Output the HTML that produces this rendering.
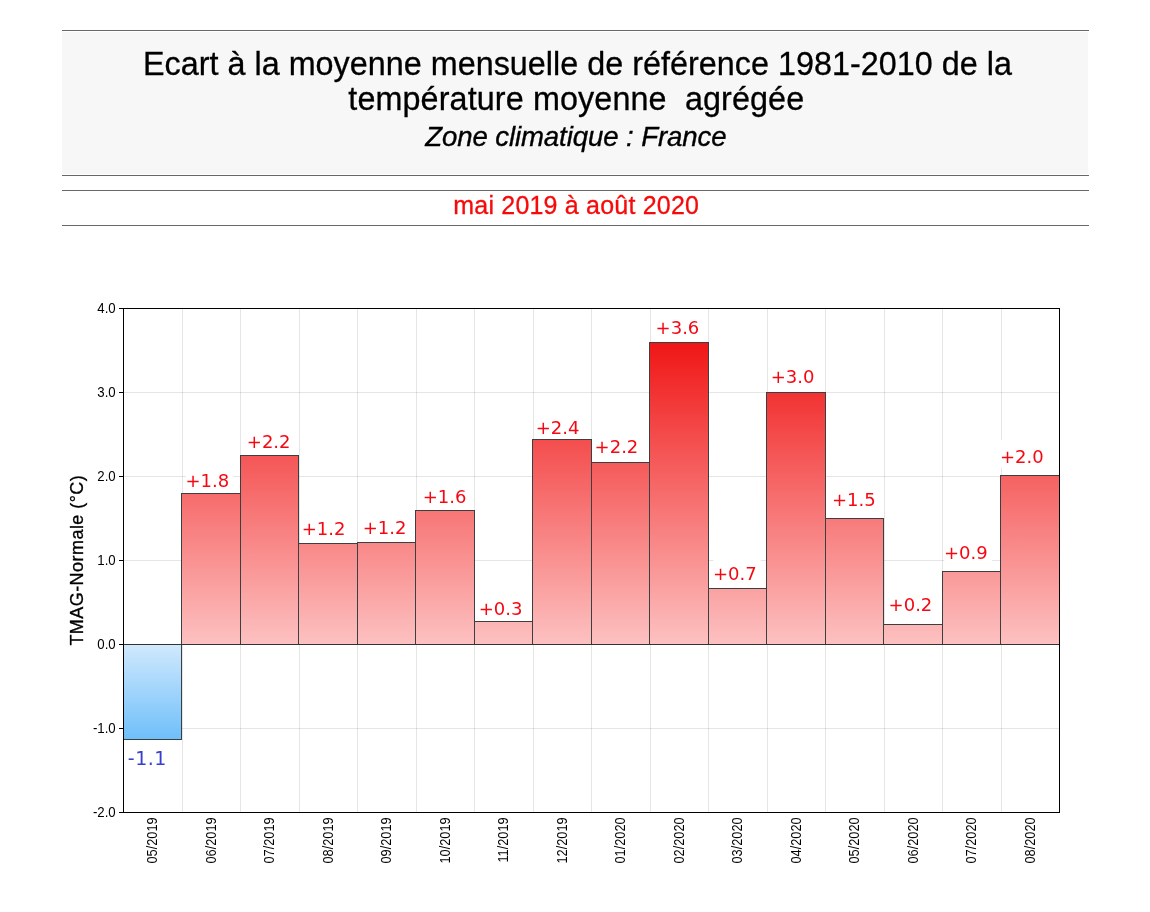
<!DOCTYPE html>
<html lang="fr"><head><meta charset="utf-8"><title>Ecart à la moyenne mensuelle</title>
<style>
html,body{margin:0;padding:0;background:#fff;}
body{width:1150px;height:912px;position:relative;overflow:hidden;font-family:"Liberation Sans",sans-serif;}
.hdr{position:absolute;left:62px;top:32px;width:1026px;height:142px;background:#f7f7f7;}
.ln{position:absolute;left:62px;width:1027px;height:1px;background:#686868;}
svg{position:absolute;left:0;top:0;}
svg text{font-family:"Liberation Sans",sans-serif;}
svg text.bl{font-family:"DejaVu Sans","Liberation Sans",sans-serif;}
</style></head><body>
<div class="hdr"></div>
<div class="ln" style="top:30px"></div>
<div class="ln" style="top:175px"></div>
<div class="ln" style="top:190px"></div>
<div class="ln" style="top:225px"></div>

<svg width="1150" height="912" viewBox="0 0 1150 912">
<defs>
<linearGradient id="gr" gradientUnits="userSpaceOnUse" x1="0" y1="342.1" x2="0" y2="644.5"><stop offset="0" stop-color="#f01616"/><stop offset="1" stop-color="#fdc1c1"/></linearGradient>
<linearGradient id="gb" gradientUnits="userSpaceOnUse" x1="0" y1="644.5" x2="0" y2="739.5"><stop offset="0" stop-color="#d0e9fd"/><stop offset="1" stop-color="#6fbffa"/></linearGradient>
</defs>
<text x="577.4" y="74.8" font-size="32.3" letter-spacing="0.032" text-anchor="middle" fill="#000" stroke="#000" stroke-width="0.3" style="white-space:pre">Ecart à la moyenne mensuelle de référence 1981-2010 de la</text>
<text x="576.3" y="110.3" font-size="32.3" letter-spacing="0.127" text-anchor="middle" fill="#000" stroke="#000" stroke-width="0.3" style="white-space:pre">température moyenne  agrégée</text>
<text x="575.8" y="145.6" stroke="#000" stroke-width="0.35" font-size="27.6" font-style="italic" letter-spacing="-0.1" text-anchor="middle" fill="#000">Zone climatique : France</text>
<text x="576.2" y="214" font-size="25" letter-spacing="0.2" text-anchor="middle" fill="#f60a0a" stroke="#f60a0a" stroke-width="0.3">mai 2019 à août 2020</text>
<path d="M182.5 308.5 V812.5 M240.5 308.5 V812.5 M299.5 308.5 V812.5 M357.5 308.5 V812.5 M416.5 308.5 V812.5 M474.5 308.5 V812.5 M533.5 308.5 V812.5 M591.5 308.5 V812.5 M650.5 308.5 V812.5 M708.5 308.5 V812.5 M767.5 308.5 V812.5 M825.5 308.5 V812.5 M884.5 308.5 V812.5 M942.5 308.5 V812.5 M1001.5 308.5 V812.5" stroke="#000" stroke-opacity="0.1" stroke-width="1" fill="none"/>
<path d="M123.5 392.5 H1059.5 M123.5 476.5 H1059.5 M123.5 560.5 H1059.5 M123.5 728.5 H1059.5" stroke="#000" stroke-opacity="0.1" stroke-width="1" fill="none"/>
<rect x="123.5" y="644.5" width="58.0" height="95.0" fill="url(#gb)" stroke="#3a4040" stroke-width="1"/>
<rect x="181.5" y="493.5" width="59.0" height="151.0" fill="url(#gr)" stroke="#3a4040" stroke-width="1"/>
<rect x="240.5" y="455.5" width="58.0" height="189.0" fill="url(#gr)" stroke="#3a4040" stroke-width="1"/>
<rect x="298.5" y="543.5" width="59.0" height="101.0" fill="url(#gr)" stroke="#3a4040" stroke-width="1"/>
<rect x="357.5" y="542.5" width="58.0" height="102.0" fill="url(#gr)" stroke="#3a4040" stroke-width="1"/>
<rect x="415.5" y="510.5" width="59.0" height="134.0" fill="url(#gr)" stroke="#3a4040" stroke-width="1"/>
<rect x="474.5" y="621.5" width="58.0" height="23.0" fill="url(#gr)" stroke="#3a4040" stroke-width="1"/>
<rect x="532.5" y="439.5" width="59.0" height="205.0" fill="url(#gr)" stroke="#3a4040" stroke-width="1"/>
<rect x="591.5" y="462.5" width="58.0" height="182.0" fill="url(#gr)" stroke="#3a4040" stroke-width="1"/>
<rect x="649.5" y="342.5" width="59.0" height="302.0" fill="url(#gr)" stroke="#3a4040" stroke-width="1"/>
<rect x="708.5" y="588.5" width="58.0" height="56.0" fill="url(#gr)" stroke="#3a4040" stroke-width="1"/>
<rect x="766.5" y="392.5" width="59.0" height="252.0" fill="url(#gr)" stroke="#3a4040" stroke-width="1"/>
<rect x="825.5" y="518.5" width="58.0" height="126.0" fill="url(#gr)" stroke="#3a4040" stroke-width="1"/>
<rect x="883.5" y="624.5" width="59.0" height="20.0" fill="url(#gr)" stroke="#3a4040" stroke-width="1"/>
<rect x="942.5" y="571.5" width="58.0" height="73.0" fill="url(#gr)" stroke="#3a4040" stroke-width="1"/>
<rect x="1000.5" y="475.5" width="59.0" height="169.0" fill="url(#gr)" stroke="#3a4040" stroke-width="1"/>
<path d="M123.5 644.5 H1059.5" stroke="#333" stroke-width="1"/>
<rect x="123.5" y="308.5" width="936.0" height="504.0" fill="none" stroke="#000" stroke-width="1"/>
<text transform="translate(115.7 313.0) scale(0.945 1)" font-size="14" text-anchor="end" fill="#000">4.0</text>
<text transform="translate(115.7 397.0) scale(0.945 1)" font-size="14" text-anchor="end" fill="#000">3.0</text>
<text transform="translate(115.7 481.0) scale(0.945 1)" font-size="14" text-anchor="end" fill="#000">2.0</text>
<text transform="translate(115.7 565.0) scale(0.945 1)" font-size="14" text-anchor="end" fill="#000">1.0</text>
<text transform="translate(115.7 649.0) scale(0.945 1)" font-size="14" text-anchor="end" fill="#000">0.0</text>
<text transform="translate(115.7 733.0) scale(0.945 1)" font-size="14" text-anchor="end" fill="#000">-1.0</text>
<text transform="translate(115.7 817.0) scale(0.945 1)" font-size="14" text-anchor="end" fill="#000">-2.0</text>
<path d="M119.0 308.5 H123.5 M119.0 392.5 H123.5 M119.0 476.5 H123.5 M119.0 560.5 H123.5 M119.0 644.5 H123.5 M119.0 728.5 H123.5 M119.0 812.5 H123.5" stroke="#000" stroke-width="1"/>
<text transform="translate(157.25 817.3) rotate(-90) scale(0.915 1)" font-size="14" text-anchor="end" fill="#000">05/2019</text>
<text transform="translate(215.75 817.3) rotate(-90) scale(0.915 1)" font-size="14" text-anchor="end" fill="#000">06/2019</text>
<text transform="translate(274.25 817.3) rotate(-90) scale(0.915 1)" font-size="14" text-anchor="end" fill="#000">07/2019</text>
<text transform="translate(332.75 817.3) rotate(-90) scale(0.915 1)" font-size="14" text-anchor="end" fill="#000">08/2019</text>
<text transform="translate(391.25 817.3) rotate(-90) scale(0.915 1)" font-size="14" text-anchor="end" fill="#000">09/2019</text>
<text transform="translate(449.75 817.3) rotate(-90) scale(0.915 1)" font-size="14" text-anchor="end" fill="#000">10/2019</text>
<text transform="translate(508.25 817.3) rotate(-90) scale(0.915 1)" font-size="14" text-anchor="end" fill="#000">11/2019</text>
<text transform="translate(566.75 817.3) rotate(-90) scale(0.915 1)" font-size="14" text-anchor="end" fill="#000">12/2019</text>
<text transform="translate(625.25 817.3) rotate(-90) scale(0.915 1)" font-size="14" text-anchor="end" fill="#000">01/2020</text>
<text transform="translate(683.75 817.3) rotate(-90) scale(0.915 1)" font-size="14" text-anchor="end" fill="#000">02/2020</text>
<text transform="translate(742.25 817.3) rotate(-90) scale(0.915 1)" font-size="14" text-anchor="end" fill="#000">03/2020</text>
<text transform="translate(800.75 817.3) rotate(-90) scale(0.915 1)" font-size="14" text-anchor="end" fill="#000">04/2020</text>
<text transform="translate(859.25 817.3) rotate(-90) scale(0.915 1)" font-size="14" text-anchor="end" fill="#000">05/2020</text>
<text transform="translate(917.75 817.3) rotate(-90) scale(0.915 1)" font-size="14" text-anchor="end" fill="#000">06/2020</text>
<text transform="translate(976.25 817.3) rotate(-90) scale(0.915 1)" font-size="14" text-anchor="end" fill="#000">07/2020</text>
<text transform="translate(1034.75 817.3) rotate(-90) scale(0.915 1)" font-size="14" text-anchor="end" fill="#000">08/2020</text>
<text transform="translate(82.5 560.2) rotate(-90)" font-size="18" letter-spacing="0.45" text-anchor="middle" fill="#000" stroke="#000" stroke-width="0.3">TMAG-Normale (°C)</text>
<rect x="127.2" y="741.9" width="42" height="27.5" fill="#fff"/>
<text x="127.8" y="764.9" class="bl" font-size="19" letter-spacing="0.5" fill="#3640cc">-1.1</text>
<rect x="185.8" y="463.5" width="47.5" height="27.5" fill="#fff"/>
<text x="185.4" y="486.5" class="bl" font-size="18" fill="#f60812">+1.8</text>
<rect x="247.2" y="424.9" width="47.5" height="27.5" fill="#fff"/>
<text x="246.8" y="447.9" class="bl" font-size="18" fill="#f60812">+2.2</text>
<rect x="302.1" y="511.5" width="47.5" height="27.5" fill="#fff"/>
<text x="301.7" y="534.5" class="bl" font-size="18" fill="#f60812">+1.2</text>
<rect x="363.1" y="510.7" width="47.5" height="27.5" fill="#fff"/>
<text x="362.7" y="533.7" class="bl" font-size="18" fill="#f60812">+1.2</text>
<rect x="423.1" y="480.3" width="47.5" height="27.5" fill="#fff"/>
<text x="422.7" y="503.3" class="bl" font-size="18" fill="#f60812">+1.6</text>
<rect x="479.1" y="592.0" width="47.5" height="27.5" fill="#fff"/>
<text x="478.7" y="615.0" class="bl" font-size="18" fill="#f60812">+0.3</text>
<rect x="536.1" y="410.7" width="47.5" height="27.5" fill="#fff"/>
<text x="535.7" y="433.7" class="bl" font-size="18" fill="#f60812">+2.4</text>
<rect x="595.0" y="429.9" width="47.5" height="27.5" fill="#fff"/>
<text x="594.6" y="452.9" class="bl" font-size="18" fill="#f60812">+2.2</text>
<rect x="656.0" y="311.4" width="47.5" height="27.5" fill="#fff"/>
<text x="655.6" y="334.4" class="bl" font-size="18" fill="#f60812">+3.6</text>
<rect x="713.3" y="557.3" width="47.5" height="27.5" fill="#fff"/>
<text x="712.9" y="580.3" class="bl" font-size="18" fill="#f60812">+0.7</text>
<rect x="771.1" y="359.5" width="47.5" height="27.5" fill="#fff"/>
<text x="770.7" y="382.5" class="bl" font-size="18" fill="#f60812">+3.0</text>
<rect x="832.3" y="482.7" width="47.5" height="27.5" fill="#fff"/>
<text x="831.9" y="505.7" class="bl" font-size="18" fill="#f60812">+1.5</text>
<rect x="889.0" y="587.7" width="47.5" height="27.5" fill="#fff"/>
<text x="888.6" y="610.7" class="bl" font-size="18" fill="#f60812">+0.2</text>
<rect x="944.3" y="535.5" width="47.5" height="27.5" fill="#fff"/>
<text x="943.9" y="558.5" class="bl" font-size="18" fill="#f60812">+0.9</text>
<rect x="1000.3" y="440.2" width="47.5" height="27.5" fill="#fff"/>
<text x="999.9" y="463.2" class="bl" font-size="18" fill="#f60812">+2.0</text>
</svg>
</body></html>
